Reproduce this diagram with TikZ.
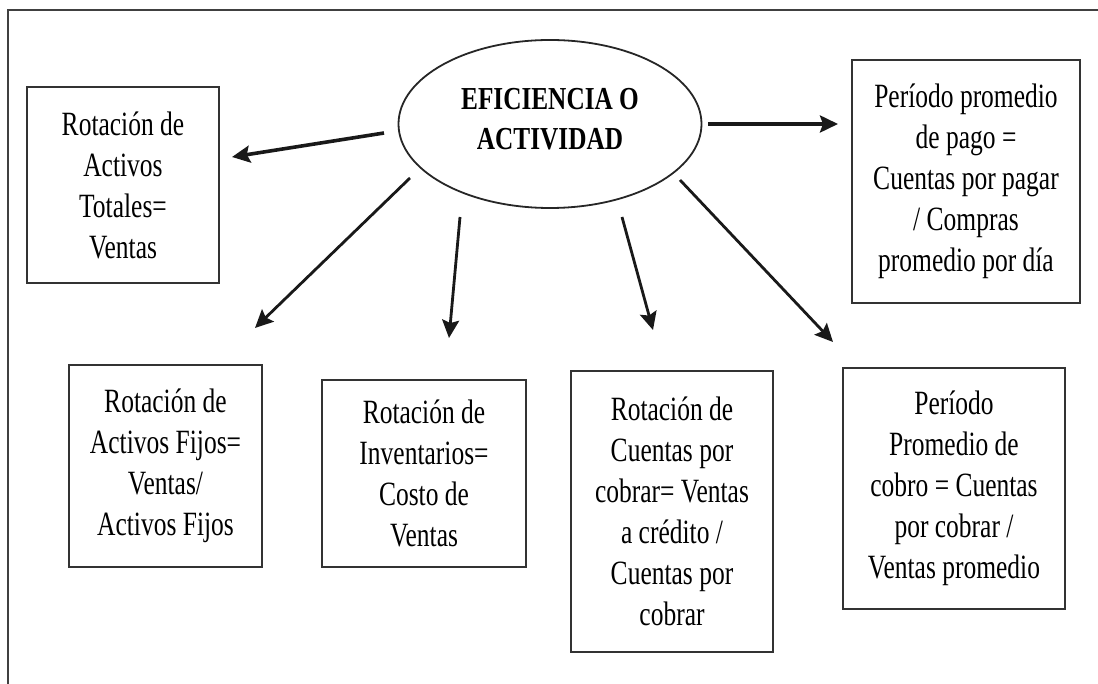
\documentclass[tikz,border=0pt]{standalone}
\usepackage{fontspec}
\setmainfont{Liberation Serif}
\newfontfamily\boxfont[FakeStretch=0.75]{Liberation Serif}
\newfontfamily\titlefont[FakeStretch=0.79]{Liberation Serif}
\usetikzlibrary{arrows.meta,shapes.geometric}
\begin{document}
\begin{tikzpicture}[x=1pt,y=-1pt,
  box/.style={draw=black!80, line width=1.6pt, inner sep=0pt, align=center,
    font=\boxfont\fontsize{34}{41}\selectfont},
  oval/.style={ellipse, draw=black!85, line width=1.8pt, inner sep=0pt, align=center,
    font=\titlefont\bfseries\fontsize{32}{40}\selectfont},
  arr/.style={-{Stealth[length=18pt,width=17pt,inset=3pt]}, line width=2.8pt, draw=black!90},
  harr/.style={arr, line width=3.6pt},
  frame/.style={draw=black!75, line width=1.6pt}
]
\useasboundingbox (0,0) rectangle (1098,684);
% frame
\coordinate (fbl) at (8,684);
\coordinate (ftl) at (8,10);
\coordinate (ftr) at (1098,10);
\draw[frame] (fbl) -- (ftl) -- (ftr);

% central ellipse
\node[oval, minimum width=303pt, minimum height=168pt] (ell) at (550,124)
  {EFICIENCIA O\\ACTIVIDAD\rule[-10pt]{0pt}{0pt}};

% boxes
\node[box, minimum width=192pt, minimum height=196pt] (tot) at (123,185)
  {Rotación de\\Activos\\Totales=\\Ventas};
\node[box, minimum width=228pt, minimum height=243pt] (pag) at (966,181.5)
  {Período promedio\\de pago =\\Cuentas por pagar\\/ Compras\\promedio por día};
\node[box, minimum width=193pt, minimum height=202pt] (fij) at (165.5,466)
  {Rotación de\\Activos Fijos=\\Ventas/\\Activos Fijos};
\node[box, minimum width=204pt, minimum height=187pt] (inv) at (424,473.5)
  {Rotación de\\Inventarios=\\Costo de\\Ventas};
\node[box, minimum width=202pt, minimum height=281pt] (cxc) at (672,511.5)
  {Rotación de\\Cuentas por\\cobrar= Ventas\\a crédito /\\Cuentas por\\cobrar};
\node[box, minimum width=222pt, minimum height=241pt] (cob) at (954,488.5)
  {Período\\Promedio de\\cobro = Cuentas\\por cobrar /\\Ventas promedio};

% arrow end points
\coordinate (s1) at (384,133);  \coordinate (e1) at (232,157);
\coordinate (s2) at (410,178);  \coordinate (e2) at (255,328);
\coordinate (s3) at (460,217);  \coordinate (e3) at (449,338);
\coordinate (s4) at (622,217);  \coordinate (e4) at (653,330);
\coordinate (s5) at (680,180);  \coordinate (e5) at (833,342);
\coordinate (s6) at (708,124);  \coordinate (e6) at (838,124);

\draw[harr] (s1) -- (e1);
\draw[arr] (s2) -- (e2);
\draw[arr] (s3) -- (e3);
\draw[arr] (s4) -- (e4);
\draw[arr] (s5) -- (e5);
\draw[harr] (s6) -- (e6);
\end{tikzpicture}
\end{document}
